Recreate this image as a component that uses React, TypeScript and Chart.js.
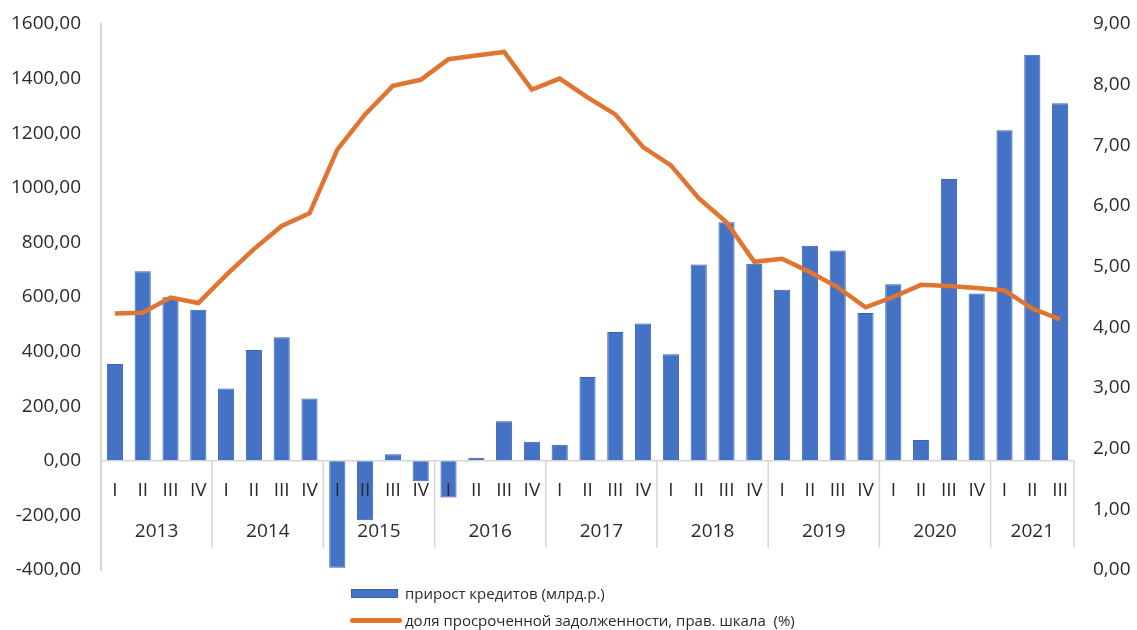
import React, { useEffect, useRef } from "react";
import { Chart, registerables } from "chart.js";

Chart.register(...registerables);

const quarterLabels = [
  "I", "II", "III", "IV",
  "I", "II", "III", "IV",
  "I", "II", "III", "IV",
  "I", "II", "III", "IV",
  "I", "II", "III", "IV",
  "I", "II", "III", "IV",
  "I", "II", "III", "IV",
  "I", "II", "III", "IV",
  "I", "II", "III",
];
const years = ["2013", "2014", "2015", "2016", "2017", "2018", "2019", "2020", "2021"];
const quartersPerYear = [4, 4, 4, 4, 4, 4, 4, 4, 3];

const loanGrowth = [
  355, 694, 599, 553,
  265, 406, 453, 228,
  -392, -218, 24, -75,
  -134, 11, 145, 70,
  59, 307, 472, 503,
  390, 719, 874, 722,
  627, 788, 770, 541,
  647, 76, 1032, 613,
  1211, 1487, 1310,
];
const overdueShare = [
  4.23, 4.24, 4.49, 4.40,
  4.86, 5.29, 5.67, 5.88,
  6.93, 7.51, 7.98, 8.08,
  8.42, 8.48, 8.54, 7.92,
  8.10, 7.79, 7.51, 6.97,
  6.67, 6.13, 5.73, 5.08,
  5.13, 4.91, 4.66, 4.33,
  4.50, 4.70, 4.68, 4.65,
  4.61, 4.31, 4.13,
];

const barLabel = "прирост кредитов (млрд.р.)";
const lineLabel = "доля просроченной задолженности, прав. шкала  (%)";

const FONT = "'Open Sans', 'DejaVu Sans', sans-serif";
const TEXT = "#2a2a2a";
const AXIS = "#d6d6d6";
const BLUE = "#4472C4";
const BLUE_EDGE = "#3a62ad";
const ORANGE = "#E07430";

const fmt = (v: number) => Number(v).toFixed(2).replace(".", ",");

const categoryAxisPlugin = {
  id: "categoryAxisAtZero",
  afterDatasetsDraw(chart: any) {
    const { ctx, chartArea, scales } = chart;
    const xs = scales.x;
    const y0 = scales.y.getPixelForValue(0);
    ctx.save();
    ctx.strokeStyle = AXIS;
    ctx.lineWidth = 1.5;
    ctx.beginPath();
    ctx.moveTo(chartArea.left, y0);
    ctx.lineTo(chartArea.right, y0);
    ctx.stroke();

    ctx.fillStyle = TEXT;
    ctx.textAlign = "center";
    ctx.textBaseline = "middle";
    ctx.font = `19px ${FONT}`;
    quarterLabels.forEach((q, i) => {
      ctx.fillText(q, xs.getPixelForValue(i), y0 + 30);
    });

    let start = 0;
    const half = (xs.getPixelForValue(1) - xs.getPixelForValue(0)) / 2;
    years.forEach((yr, g) => {
      const n = quartersPerYear[g];
      const left = xs.getPixelForValue(start) - half;
      const right = xs.getPixelForValue(start + n - 1) + half;
      ctx.fillText(yr, (left + right) / 2, y0 + 71);
      ctx.beginPath();
      ctx.moveTo(right, y0);
      ctx.lineTo(right, y0 + 87);
      ctx.stroke();
      start += n;
    });
    ctx.restore();
  },
};

const fixAxis = (width: number) => (s: any) => {
  s.width = width;
  s.paddingTop = 0;
  s.paddingBottom = 0;
};

export default function App() {
  const ref = useRef<HTMLCanvasElement>(null);
  useEffect(() => {
    if (!ref.current) return;
    const chart = new Chart(ref.current, {
      type: "bar",
      data: {
        labels: quarterLabels,
        datasets: [
          {
            type: "line",
            label: lineLabel,
            data: overdueShare,
            yAxisID: "y1",
            borderColor: ORANGE,
            backgroundColor: ORANGE,
            borderWidth: 4.5,
            pointRadius: 0,
            tension: 0,
            order: 1,
          } as any,
          {
            type: "bar",
            label: barLabel,
            data: loanGrowth,
            yAxisID: "y",
            backgroundColor: BLUE,
            borderColor: BLUE_EDGE,
            borderWidth: 1,
            barPercentage: 0.58,
            categoryPercentage: 1,
            order: 2,
          },
        ],
      },
      options: {
        animation: false,
        responsive: true,
        maintainAspectRatio: false,
        layout: { padding: { top: 24, bottom: 60, left: 0, right: 0 } },
        plugins: { legend: { display: false }, tooltip: { enabled: false } },
        scales: {
          x: { display: false, offset: true, grid: { display: false } },
          y: {
            position: "left",
            min: -400,
            max: 1600,
            ticks: {
              stepSize: 200,
              callback: (v: any) => fmt(v),
              color: TEXT,
              font: { family: FONT, size: 19 },
              padding: 20,
            },
            grid: { display: false, drawTicks: false },
            border: { display: true, color: AXIS, width: 2 },
            afterFit: fixAxis(101),
          },
          y1: {
            position: "right",
            min: 0,
            max: 9,
            ticks: {
              stepSize: 1,
              callback: (v: any) => fmt(v),
              color: TEXT,
              font: { family: FONT, size: 19 },
              padding: 19,
            },
            grid: { display: false, drawTicks: false },
            border: { display: false },
            afterFit: fixAxis(63),
          },
        },
      },
      plugins: [categoryAxisPlugin],
    });
    return () => chart.destroy();
  }, []);

  const legendText: React.CSSProperties = {
    position: "absolute",
    fontFamily: FONT,
    fontSize: 15,
    color: TEXT,
    lineHeight: "20px",
    whiteSpace: "pre",
  };

  return (
    <div style={{ position: "absolute", left: 0, top: 0, width: 1137, height: 630, background: "#fff" }}>
      <canvas ref={ref} />
      <div style={{ position: "absolute", left: 351, top: 589, width: 47, height: 9, background: BLUE, border: `1px solid ${BLUE_EDGE}`, boxSizing: "border-box" }} />
      <div style={{ ...legendText, left: 405, top: 583 }}>{barLabel}</div>
      <div style={{ position: "absolute", left: 350, top: 618, width: 52, height: 5, background: ORANGE, borderRadius: 3 }} />
      <div style={{ ...legendText, left: 405, top: 610 }}>{lineLabel}</div>
    </div>
  );
}
